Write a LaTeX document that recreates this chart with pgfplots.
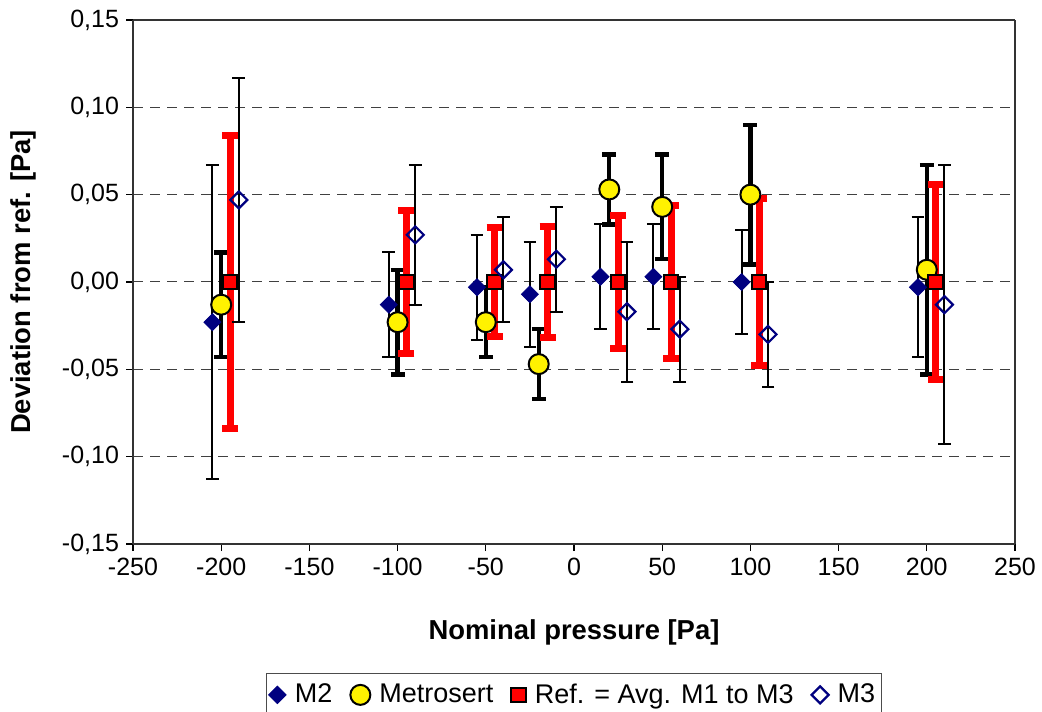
\documentclass[border=0pt]{standalone}
\usepackage{pgfplots}
\pgfplotsset{compat=1.18}
\usepackage{fontspec}
\setmainfont{Liberation Sans}
\definecolor{navyb}{RGB}{0,0,128}

\begin{document}
\begin{tikzpicture}
\useasboundingbox (-66.5pt,-83.5pt) rectangle (454.5pt,272pt);
\begin{axis}[
    at={(0,0)}, anchor=south west,
    width=441pt, height=262pt,
    scale only axis,
    xmin=-250, xmax=250,
    ymin=-0.15, ymax=0.15,
    xtick={-250,-200,...,250},
    ytick={-0.15,-0.10,...,0.151},
    /pgf/number format/assume math mode=true,
    yticklabel style={/pgf/number format/.cd, fixed, fixed zerofill, precision=2, use comma},
    xticklabel style={/pgf/number format/.cd, fixed, int detect, 1000 sep={}},
    ticklabel style={font=\fontsize{12.5}{14}\selectfont},
    tick align=outside,
    major tick length=3.5pt,
    tick style={black, line width=0.6pt},
    xtick pos=bottom, ytick pos=left,
    ymajorgrids,
    major grid style={black!75, line width=0.5pt, dash pattern=on 5pt off 3.5pt},
    axis line style={line width=0.8pt},
    axis x line*=box, axis y line*=box,
    separate axis lines,
    every outer x axis line/.append style={black!80},
    every outer y axis line/.append style={black!80},
    xlabel={\textbf{Nominal pressure [Pa]}},
    ylabel={\textbf{Deviation from ref. [Pa]}},
    label style={font=\fontsize{13.7}{15}\selectfont},
    xlabel style={at={(axis description cs:0.5,0)}, anchor=center, yshift=-44pt},
    ylabel style={at={(axis description cs:0,0.5)}, anchor=center, yshift=55pt},
    legend columns=-1,
    legend image code/.code={\draw[mark repeat=2, mark phase=2, #1] plot coordinates {(0pt,0pt) (8.5pt,0pt) (17pt,0pt)};},
    legend style={at={(0.5,0)}, anchor=north, yshift=-64.5pt,
        draw=black!70, line width=0.6pt,
        font=\fontsize{13.5}{15}\selectfont,
        inner xsep=1pt, inner ysep=3pt,
        /tikz/every odd column/.append style={column sep=2.5pt},
        /tikz/every even column/.append style={column sep=7pt}},
    legend cell align=left,
    clip=false,
]
% M2
\addplot[only marks, mark=square*, mark size=3pt, color=navyb, mark options={rotate=45, fill=navyb, draw=navyb},
    error bars/.cd, y dir=both, y explicit,
    error bar style={black, line width=1pt},
    error mark options={rotate=90, mark size=3.2pt, black, line width=1pt}]
table[x=x, y=y, y error=e] {
x    y       e
-205 -0.023  0.090
-105 -0.013  0.030
-55  -0.003  0.030
-25  -0.007  0.030
15    0.003  0.030
45    0.003  0.030
95    0.000  0.030
195  -0.003  0.040
};
\addlegendentry{M2}
% Metrosert
\addplot[only marks, mark=*, mark size=5pt, mark options={fill=yellow, draw=black, line width=1pt},
    error bars/.cd, y dir=both, y explicit,
    error bar style={black, line width=2.2pt},
    error mark options={rotate=90, mark size=3.5pt, black, line width=2.2pt}]
table[x=x, y=y, y error=e] {
x    y       e
-200 -0.013  0.030
-100 -0.023  0.030
-50  -0.023  0.020
-20  -0.047  0.020
20    0.053  0.020
50    0.043  0.030
100   0.050  0.040
200   0.007  0.060
};
\addlegendentry{Metrosert}
% Ref
\addplot[only marks, mark=square*, mark size=3.6pt, mark options={fill=red, draw=black, line width=1pt},
    error bars/.cd, y dir=both, y explicit,
    error bar style={red, line width=3.5pt},
    error mark options={rotate=90, mark size=4pt, red, line width=3.5pt}]
table[x=x, y=y, y error=e] {
x    y    e
-195 0.0  0.084
-95  0.0  0.041
-45  0.0  0.031
-15  0.0  0.032
25   0.0  0.038
55   0.0  0.044
105  0.0  0.048
205  0.0  0.056
};
\addlegendentry{Ref. = Avg. M1 to M3}
% M3
\addplot[only marks, mark=square, mark size=3pt, mark options={rotate=45, draw=navyb, fill=white, line width=1.1pt},
    error bars/.cd, y dir=both, y explicit,
    error bar style={black, line width=1pt},
    error mark options={rotate=90, mark size=3.2pt, black, line width=1pt}]
table[x=x, y=y, y error=e] {
x    y       e
-190  0.047  0.070
-90   0.027  0.040
-40   0.007  0.030
-10   0.013  0.030
30   -0.017  0.040
60   -0.027  0.030
110  -0.030  0.030
210  -0.013  0.080
};
\addlegendentry{M3}
\end{axis}
\end{tikzpicture}
\end{document}
